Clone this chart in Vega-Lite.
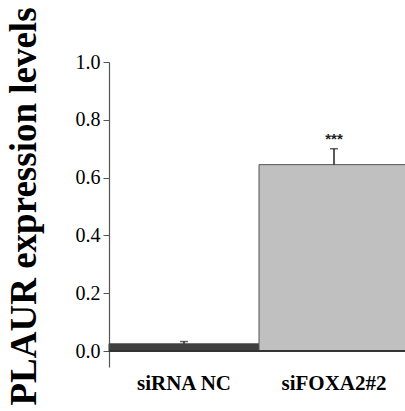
{
  "$schema": "https://vega.github.io/schema/vega-lite/v6.json",
  "width": 300,
  "height": 305,
  "padding": {"left": 4, "top": 6, "right": 0, "bottom": 0},
  "background": "white",
  "config": {
    "view": {"stroke": null},
    "font": "Liberation Serif"
  },
  "data": {"values": [
    {"group": "siRNA NC", "value": 0.025, "lo": 0.017, "hi": 0.033, "sig": ""},
    {"group": "siFOXA2#2", "value": 0.645, "lo": 0.59, "hi": 0.70, "sig": "***"}
  ]},
  "encoding": {
    "x": {"field": "group", "type": "nominal", "sort": null,
      "scale": {"paddingInner": 0, "paddingOuter": 0},
      "axis": {"title": null, "domain": false, "ticks": false, "labelAngle": 0, "labelPadding": 5, "labelFont": "Liberation Serif", "labelFontSize": 21, "labelFontWeight": "bold", "labelColor": "black"}}
  },
  "layer": [
    {
      "mark": {"type": "bar", "strokeWidth": 1},
      "encoding": {
        "y": {"field": "value", "type": "quantitative",
          "scale": {"domain": [-0.055, 1.0], "nice": false, "zero": false},
          "axis": {"title": "PLAUR expression levels", "titleFont": "Liberation Serif", "titleFontWeight": "bold", "titleFontSize": 37, "titleColor": "black", "titlePadding": 32, "titleY": 144,
            "values": [0, 0.1, 0.2, 0.3, 0.4, 0.5, 0.6, 0.7, 0.8, 0.9, 1.0],
            "labelExpr": "(round(datum.value*10) % 2 == 0) ? format(datum.value, '.1f') : ''",
            "tickSize": {"condition": {"test": "round(datum.value*10) % 2 == 0", "value": 6}, "value": 3},
            "labelPadding": 3, "labelFont": "Liberation Serif", "labelFontSize": 20, "labelColor": "black",
            "grid": false, "domainColor": "#555", "tickColor": "#555", "domainWidth": 1.2, "tickWidth": 1}},
        "y2": {"datum": 0},
        "color": {"field": "group", "type": "nominal", "scale": {"domain": ["siRNA NC", "siFOXA2#2"], "range": ["#404040", "#c0c0c0"]}, "legend": null},
        "stroke": {"field": "group", "type": "nominal", "scale": {"domain": ["siRNA NC", "siFOXA2#2"], "range": ["#404040", "#555555"]}, "legend": null}
      }
    },
    {
      "mark": {"type": "rule", "color": "#333", "strokeWidth": 2},
      "encoding": {"y": {"datum": 0, "type": "quantitative"}, "x": {"value": 0}, "x2": {"value": 300}}
    },
    {
      "mark": {"type": "rule", "color": "#222", "strokeWidth": 1.5},
      "encoding": {"y": {"field": "value", "type": "quantitative"}, "y2": {"field": "hi"}}
    },
    {
      "mark": {"type": "tick", "color": "#222", "thickness": 1.5, "size": 8, "orient": "horizontal"},
      "encoding": {"y": {"field": "hi", "type": "quantitative"}}
    },
    {
      "mark": {"type": "text", "font": "Liberation Sans", "fontSize": 15, "fontWeight": "bold", "dy": -10, "color": "#222"},
      "encoding": {"y": {"field": "hi", "type": "quantitative"}, "text": {"field": "sig"}}
    }
  ]
}
